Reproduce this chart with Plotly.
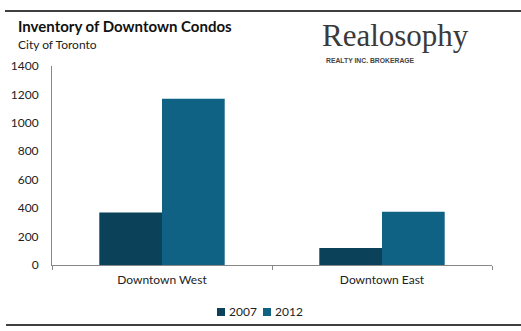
import plotly.graph_objects as go

categories = ["Downtown West", "Downtown East"]
series_names = ["2007", "2012"]
values_2007 = [370, 120]
values_2012 = [1170, 375]
y_ticks = [0, 200, 400, 600, 800, 1000, 1200, 1400]
colors = ["#0b4159", "#0f6283"]

W, H = 521, 331
def px(x):
    return x / W
def py(y):
    return 1 - y / H

fig = go.Figure()
for name, vals, col in zip(series_names, [values_2007, values_2012], colors):
    fig.add_trace(go.Bar(x=categories, y=vals, name=name,
                         marker=dict(color=col, line=dict(width=0)), showlegend=False))

font_main = "Lato"
fig.update_layout(
    width=W, height=H,
    margin=dict(l=0, r=0, t=0, b=0),
    paper_bgcolor="white", plot_bgcolor="white",
    barmode="group", bargap=0.43, bargroupgap=0,
    font=dict(family=font_main, size=12, color="#222"),
    showlegend=False,
    xaxis=dict(domain=[px(52), px(492)], showline=True, linecolor="#888", linewidth=1,
               ticks="outside", tickson="boundaries", ticklen=4, tickcolor="#888",
               showgrid=False, automargin=False, ticklabelstandoff=4,
               tickfont=dict(size=12, color="#222")),
    yaxis=dict(domain=[1 - 265 / H, 1 - 66 / H], range=[0, 1400], tickvals=y_ticks,
               showline=True, linecolor="#888", linewidth=1, ticks="", showgrid=False,
               zeroline=False, automargin=False, ticklabelstandoff=10,
               tickfont=dict(size=12, color="#222")),
)

# legend (manual, compact like the reference)
leg_x = [217, 263]
for lx, name, col in zip(leg_x, series_names, colors):
    fig.add_shape(type="rect", xref="paper", yref="paper",
                  x0=px(lx), x1=px(lx + 8), y0=py(316), y1=py(308),
                  fillcolor=col, line=dict(width=0))
    fig.add_annotation(text=name, x=px(lx + 10), y=py(311.5), xref="paper", yref="paper",
                       xanchor="left", yanchor="middle", showarrow=False,
                       font=dict(family=font_main, size=12, color="#222"))

fig.add_annotation(text="<b>Inventory of Downtown Condos</b>", x=px(16), y=py(26),
                   xref="paper", yref="paper", xanchor="left", yanchor="middle",
                   showarrow=False, font=dict(family=font_main, size=15, color="#111"))
fig.add_annotation(text="City of Toronto", x=px(16), y=py(45),
                   xref="paper", yref="paper", xanchor="left", yanchor="middle",
                   showarrow=False, font=dict(family=font_main, size=12, color="#222"))
fig.add_annotation(text="Realosophy", x=px(395), y=py(35),
                   xref="paper", yref="paper", xanchor="center", yanchor="middle",
                   showarrow=False, font=dict(family="Liberation Serif", size=31, color="#3a3a3a"))
fig.add_annotation(text="<b>REALTY INC. BROKERAGE</b>", x=px(370), y=py(60),
                   xref="paper", yref="paper", xanchor="center", yanchor="middle",
                   showarrow=False, font=dict(family="Liberation Sans", size=6.8, color="#444"))

fig.add_shape(type="line", xref="paper", yref="paper", x0=px(5), x1=1, y0=py(11), y1=py(11),
              line=dict(color="black", width=1.5))
fig.add_shape(type="line", xref="paper", yref="paper", x0=px(6), x1=1, y0=py(325), y1=py(325),
              line=dict(color="black", width=1.5))

fig.write_html("out.html")
